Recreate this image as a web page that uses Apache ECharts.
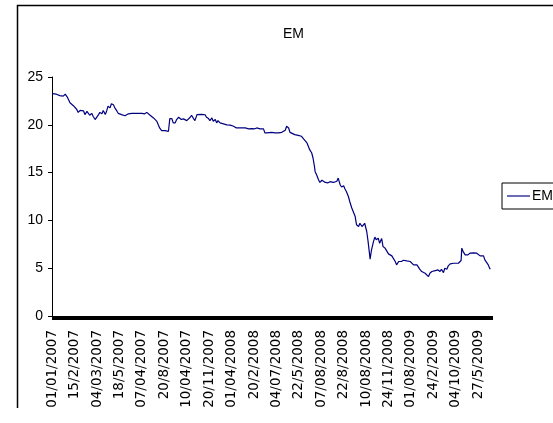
<!DOCTYPE html>
<html><head><meta charset="utf-8">
<script src="https://cdn.jsdelivr.net/npm/echarts@6/dist/echarts.min.js"></script>
<style>html,body{margin:0;padding:0;background:#fff}#c{width:553px;height:423px}</style>
</head><body><div id="c"></div>
<script>
const seriesName = 'EM';
const tickLabels = ['01/01/2007','15/2/2007','04/03/2007','18/5/2007','07/04/2007','20/8/2007','10/04/2007','20/11/2007','01/04/2008','20/2/2008','04/07/2008','22/5/2008','07/08/2008','22/8/2008','10/08/2008','24/11/2008','01/08/2009','24/2/2009','04/10/2009','27/5/2009'];
const labelEvery = 33;
const dayCount = 648;
const dayIndex = [0,6,11,16,19,22,26,28,31,33,36,38,41,43,46,48,51,53,55,58,60,63,65,68,70,73,75,78,80,82,85,87,90,92,95,97,102,107,112,114,117,119,122,124,127,129,132,134,136,139,141,144,146,149,151,154,156,158,161,163,166,168,171,173,176,178,181,183,186,188,190,193,195,198,200,203,205,208,210,213,215,220,225,227,230,232,235,237,240,242,244,247,249,252,254,257,259,262,264,267,269,271,276,281,284,286,289,294,298,301,303,306,308,311,313,316,318,323,328,330,333,335,338,340,343,345,348,350,352,357,362,367,370,372,375,377,379,382,384,386,387,389,392,394,397,399,402,404,406,409,411,414,416,419,421,424,426,429,431,433,436,438,441,443,446,448,451,453,456,458,460,463,465,468,470,473,475,477,480,482,485,487,490,492,495,497,500,502,505,507,510,512,514,517,519,522,524,527,529,532,534,537,539,541,544,546,549,551,554,556,559,561,564,566,568,571,573,576,578,581,583,586,588,591,593,595,598,600,602,603,605,608,610,612,615,617,620,622,625,627,630,632,635,637,639,642,644,645];
const emValues = [23.27,23.2,23.05,23.0,23.2,22.9,22.3,22.1,22.0,22.2,21.6,21.3,21.5,21.3,21.45,21.07,21.4,21.25,21.0,21.2,20.9,20.55,20.72,21.07,21.3,21.15,21.5,21.07,21.45,21.95,21.77,22.2,22.1,21.77,21.45,21.2,21.07,20.95,21.15,21.3,21.2,21.07,21.2,21.35,21.2,21.3,21.2,21.35,21.15,21.3,21.1,21.0,20.9,20.72,20.6,20.35,20.0,19.67,19.39,19.25,19.39,19.25,19.32,20.65,20.65,20.2,20.2,20.55,20.79,20.65,20.55,20.62,20.44,20.44,20.37,20.79,21.0,20.65,20.44,21.07,21.07,21.1,21.05,20.79,20.65,20.44,20.72,20.37,20.55,20.2,20.44,20.2,20.3,20.1,20.2,20.0,20.1,19.96,19.96,19.85,19.78,19.67,19.67,19.67,19.67,19.74,19.58,19.6,19.58,19.67,19.67,19.58,19.67,19.58,19.15,19.15,19.2,19.21,19.15,19.29,19.15,19.29,19.21,19.32,19.43,19.85,19.67,19.21,19.08,18.97,18.9,18.8,18.52,18.38,18.1,17.75,17.4,17.05,16.5,15.65,15.1,14.8,14.25,13.97,14.2,14.1,13.97,14.1,13.93,14.05,13.93,13.97,13.86,14.1,14.43,13.7,13.49,13.63,13.28,13.03,12.5,11.98,11.3,11.11,10.4,9.54,9.36,9.7,9.36,9.54,9.7,8.84,7.8,5.95,6.9,7.8,8.25,7.97,8.14,7.6,8.1,7.27,7.1,6.99,6.5,6.5,6.29,6.05,5.7,5.35,5.7,5.52,5.7,5.83,5.9,5.76,5.83,5.7,5.59,5.35,5.52,5.35,5.52,4.9,4.65,4.54,4.47,4.3,4.12,4.47,4.65,4.54,4.75,4.65,4.82,4.65,4.89,4.54,5.0,4.89,5.24,5.45,5.35,5.52,5.59,5.52,5.52,5.52,5.8,7.1,6.74,6.39,6.2,6.39,6.57,6.39,6.6,6.5,6.57,6.5,6.29,6.39,6.29,5.87,5.7,5.35,5.0,4.89];

// business-day categories starting 1 Jan 2007
const categories = [];
const d = new Date(Date.UTC(2007, 0, 1));
while (categories.length < dayCount) {
  const wd = d.getUTCDay();
  if (wd !== 0 && wd !== 6) categories.push(d.toISOString().slice(0, 10));
  d.setUTCDate(d.getUTCDate() + 1);
}
const seriesData = dayIndex.map((i, k) => [i, emValues[k]]);

const sans = "'Liberation Sans', Arial, sans-serif";
const chart = echarts.init(document.getElementById('c'), null, {renderer: 'canvas'});
chart.setOption({
  animation: false,
  backgroundColor: '#fff',
  title: {
    text: seriesName, left: 278, top: 22,
    textStyle: {fontFamily: sans, fontSize: 14, fontWeight: 'normal', color: '#000'}
  },
  legend: {
    data: [{name: seriesName, icon: 'rect'}], left: 502, top: 183, orient: 'vertical',
    padding: [5, 40, 5, 5], borderColor: '#000', borderWidth: 1,
    itemWidth: 23, itemHeight: 1.5,
    itemStyle: {color: '#3a3aa0', borderWidth: 0},
    textStyle: {fontFamily: sans, fontSize: 14, lineHeight: 16, color: '#000', padding: [0, 0, 0, -3]}
  },
  grid: {left: 52, top: 77, width: 440, height: 239, containLabel: false},
  xAxis: {
    type: 'category', data: categories, boundaryGap: true,
    axisLine: {lineStyle: {color: '#000', width: 1}},
    axisTick: {show: true, interval: 0, length: 4, lineStyle: {color: '#000', width: 1}},
    axisLabel: {
      interval: labelEvery - 1, rotate: 90, margin: 14,
      fontFamily: "'DejaVu Sans', sans-serif", fontSize: 13.5, color: '#000',
      formatter: function (value) {
        const idx = categories.indexOf(value);
        const k = idx / labelEvery;
        return Number.isInteger(k) && tickLabels[k] ? tickLabels[k] : '';
      }
    },
    splitLine: {show: false}
  },
  yAxis: {
    type: 'value', min: 0, max: 25, interval: 5,
    axisLine: {show: true, lineStyle: {color: '#000', width: 1}},
    axisTick: {show: true, length: 4, lineStyle: {color: '#000'}},
    axisLabel: {margin: 9, fontFamily: sans, fontSize: 14, color: '#000'},
    splitLine: {show: false}
  },
  series: [{
    type: 'line', name: seriesName, data: seriesData, symbol: 'none',
    lineStyle: {color: '#000080', width: 1.2}, itemStyle: {color: '#000080'}
  }],
  graphic: [{
    type: 'polyline', silent: true, z: -10,
    shape: {points: [[17.5, 408], [17.5, 5.5], [600, 5.5]]},
    style: {fill: 'none', stroke: '#000', lineWidth: 1.5}
  }]
});
</script></body></html>
